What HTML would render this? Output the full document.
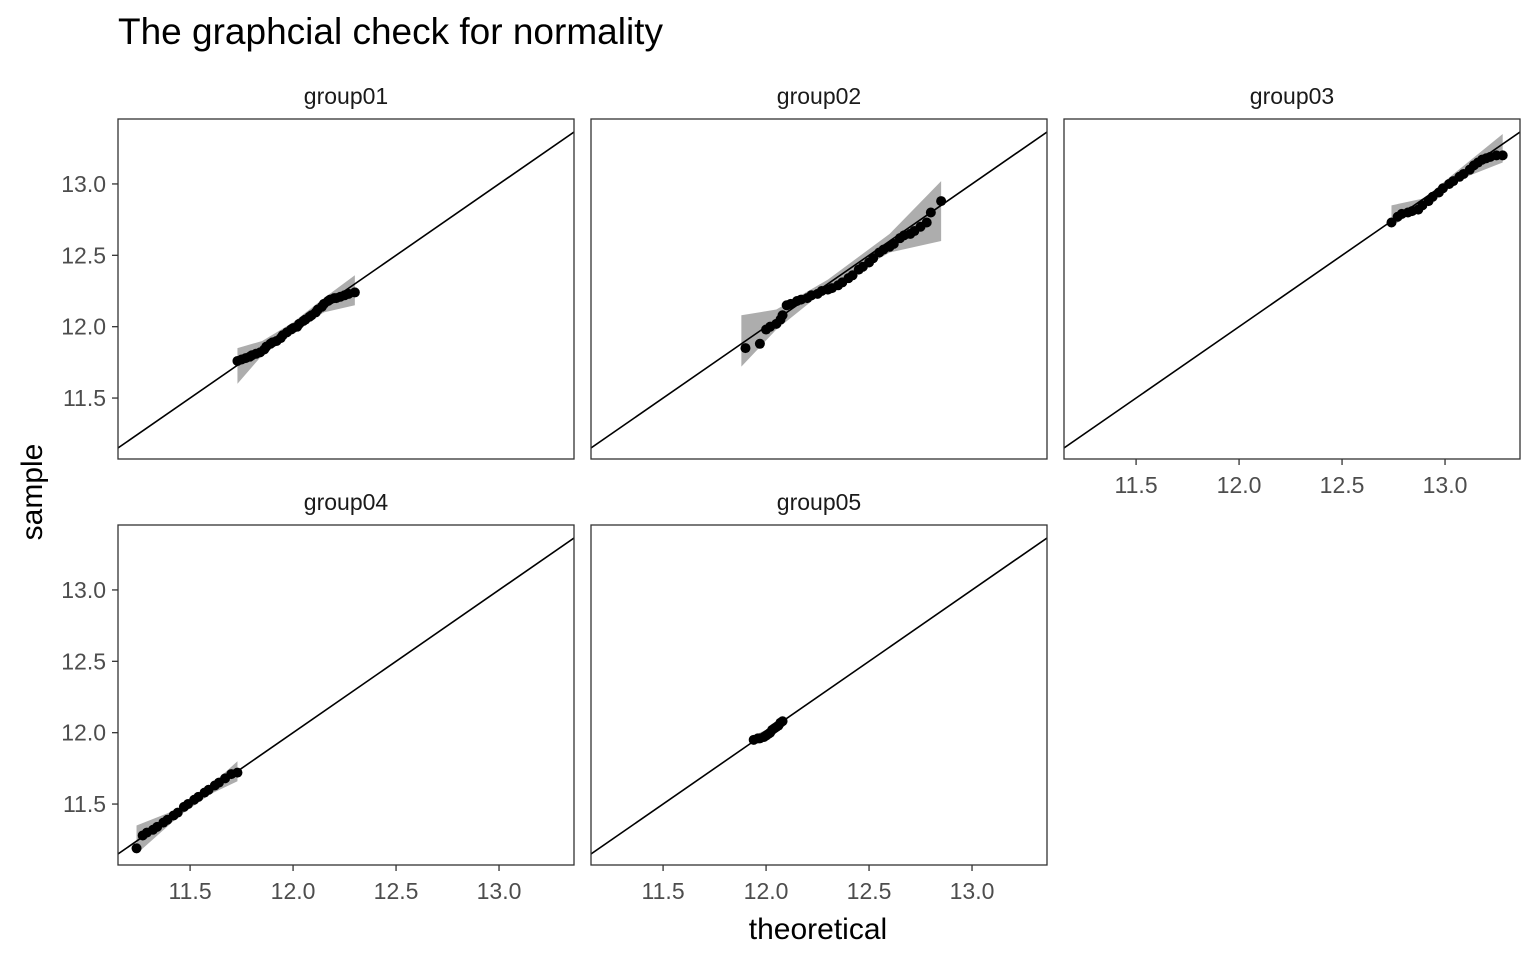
<!DOCTYPE html>
<html><head><meta charset="utf-8">
<style>
body{margin:0;background:#fff;}
svg{display:block;font-family:"Liberation Sans",Arial,sans-serif;}
</style></head>
<body>
<svg id="chart" width="1536" height="960">
<text x="118" y="44" font-size="37" fill="#000">The graphcial check for normality</text>
<text x="818" y="939" font-size="30" text-anchor="middle" fill="#000">theoretical</text>
<text transform="translate(42,492) rotate(-90)" font-size="30" text-anchor="middle" fill="#000">sample</text>
</svg>
<script>
const groups = ["group01","group02","group03","group04","group05"];
const xTicks = [11.5, 12.0, 12.5, 13.0];
const yTicks = [11.5, 12.0, 12.5, 13.0];
const theo01 = [11.73,11.75,11.77,11.79,11.80,11.82,11.84,11.86,11.87,11.89,11.90,11.92,11.94,11.95,11.97,11.99,12.00,12.02,12.03,12.05,12.06,12.08,12.09,12.11,12.12,12.14,12.15,12.17,12.18,12.20,12.21,12.23,12.25,12.27,12.30];
const samp01 = [11.76,11.77,11.78,11.79,11.80,11.81,11.82,11.84,11.86,11.88,11.89,11.90,11.92,11.94,11.96,11.98,11.99,12.00,12.02,12.04,12.05,12.07,12.08,12.10,12.12,12.14,12.16,12.18,12.19,12.20,12.20,12.21,12.22,12.23,12.24];
const theo02 = [11.90,11.97,12.00,12.02,12.05,12.07,12.08,12.10,12.12,12.15,12.17,12.20,12.22,12.25,12.27,12.30,12.32,12.35,12.37,12.40,12.42,12.45,12.47,12.50,12.52,12.55,12.57,12.60,12.62,12.65,12.67,12.70,12.72,12.75,12.78,12.80,12.85];
const samp02 = [11.85,11.88,11.98,12.00,12.02,12.05,12.08,12.15,12.16,12.18,12.19,12.20,12.22,12.23,12.25,12.26,12.27,12.29,12.31,12.34,12.36,12.40,12.42,12.45,12.48,12.52,12.54,12.56,12.58,12.62,12.64,12.65,12.67,12.70,12.73,12.80,12.88];
const theo03 = [12.74,12.77,12.79,12.82,12.84,12.87,12.89,12.92,12.94,12.97,12.99,13.02,13.04,13.07,13.09,13.12,13.14,13.16,13.18,13.20,13.22,13.25,13.28];
const samp03 = [12.73,12.77,12.79,12.80,12.81,12.82,12.85,12.88,12.91,12.94,12.97,13.00,13.02,13.05,13.07,13.10,13.13,13.15,13.17,13.18,13.19,13.20,13.20];
const theo04 = [11.24,11.27,11.29,11.32,11.34,11.37,11.39,11.42,11.44,11.47,11.49,11.52,11.54,11.57,11.59,11.62,11.64,11.67,11.70,11.73];
const samp04 = [11.19,11.28,11.30,11.32,11.34,11.37,11.39,11.42,11.44,11.48,11.50,11.53,11.55,11.58,11.60,11.63,11.65,11.68,11.71,11.72];
const theo05 = [11.94,11.96,11.97,11.99,12.00,12.01,12.02,12.03,12.04,12.05,12.06,12.07,12.08];
const samp05 = [11.95,11.96,11.96,11.97,11.98,11.99,12.00,12.02,12.03,12.04,12.05,12.07,12.08];
const bandX01 = [11.73,11.85,12.00,12.15,12.30];
const bandLo01 = [11.60,11.80,11.97,12.10,12.15];
const bandHi01 = [11.85,11.90,12.03,12.20,12.36];
const bandX02 = [11.88,12.05,12.30,12.60,12.85];
const bandLo02 = [11.72,11.98,12.27,12.52,12.60];
const bandHi02 = [12.08,12.12,12.33,12.65,13.02];
const bandX03 = [12.74,12.90,13.05,13.28];
const bandLo03 = [12.70,12.86,13.02,13.15];
const bandHi03 = [12.85,12.90,13.08,13.35];
const bandX04 = [11.24,11.45,11.60,11.73];
const bandLo04 = [11.15,11.42,11.57,11.66];
const bandHi04 = [11.35,11.47,11.63,11.80];
const bandX05 = [11.94,12.00,12.08];
const bandLo05 = [11.92,11.98,12.04];
const bandHi05 = [11.98,12.02,12.10];

const theo=[theo01,theo02,theo03,theo04,theo05];
const samp=[samp01,samp02,samp03,samp04,samp05];
const bx=[bandX01,bandX02,bandX03,bandX04,bandX05];
const bl=[bandLo01,bandLo02,bandLo03,bandLo04,bandLo05];
const bh=[bandHi01,bandHi02,bandHi03,bandHi04,bandHi05];

const NS="http://www.w3.org/2000/svg";
const svg=document.getElementById('chart');
const W=456,H=340, X0=11.15,X1=13.364, Y0=11.073,Y1=13.455;
const lefts=[118,591,1064,118,591], tops=[119,119,119,525,525];
function mk(t,a){const e=document.createElementNS(NS,t);for(const k in a)e.setAttribute(k,a[k]);svg.appendChild(e);return e;}
groups.forEach((g,i)=>{
  const L=lefts[i],T=tops[i];
  const sx=v=>L+(v-X0)/(X1-X0)*W, sy=v=>T+H-(v-Y0)/(Y1-Y0)*H;
  const st=mk('text',{x:L+W/2,y:T-15,'font-size':23,'text-anchor':'middle',fill:'#1a1a1a'});
  st.textContent=g;
  
  
  const cp=mk('clipPath',{id:'c'+i});
  const cr=document.createElementNS(NS,'rect');cr.setAttribute('x',L);cr.setAttribute('y',T);cr.setAttribute('width',W);cr.setAttribute('height',H);cp.appendChild(cr);
  let d='M'+bx[i].map((x,k)=>sx(x)+','+sy(bh[i][k])).join('L');
  for(let k=bx[i].length-1;k>=0;k--)d+='L'+sx(bx[i][k])+','+sy(bl[i][k]);
  const band=mk('path',{d:d+'Z',fill:'#999','fill-opacity':0.8});
  
  
  const ln=mk('line',{x1:sx(X0),y1:sy(X0),x2:sx(X1),y2:sy(X1),stroke:'#000','stroke-width':1.6,'clip-path':'url(#c'+i+')'});
  
  
  theo[i].forEach((x,k)=>{
    const c=mk('circle',{cx:sx(x),cy:sy(samp[i][k]),r:5,fill:'#000'});
    
    
  });
  const fr=mk('rect',{x:L,y:T,width:W,height:H,fill:'none',stroke:'#333','stroke-width':1.3});
  
  
  if(i==0||i==3){
    yTicks.forEach(v=>{
      mk('line',{x1:L-6,x2:L,y1:sy(v),y2:sy(v),stroke:'#333','stroke-width':1.3});
      const t=mk('text',{x:L-12,y:sy(v)+8,'font-size':23,'text-anchor':'end',fill:'#4d4d4d'});
      t.textContent=v.toFixed(1);
      
      
    });
  }
  if(i>=2){
    xTicks.forEach(v=>{
      mk('line',{x1:sx(v),x2:sx(v),y1:T+H,y2:T+H+6,stroke:'#333','stroke-width':1.3});
      const t=mk('text',{x:sx(v),y:T+H+34,'font-size':23,'text-anchor':'middle',fill:'#4d4d4d'});
      t.textContent=v.toFixed(1);
      
      
    });
  }
});
</script>
</body></html>
